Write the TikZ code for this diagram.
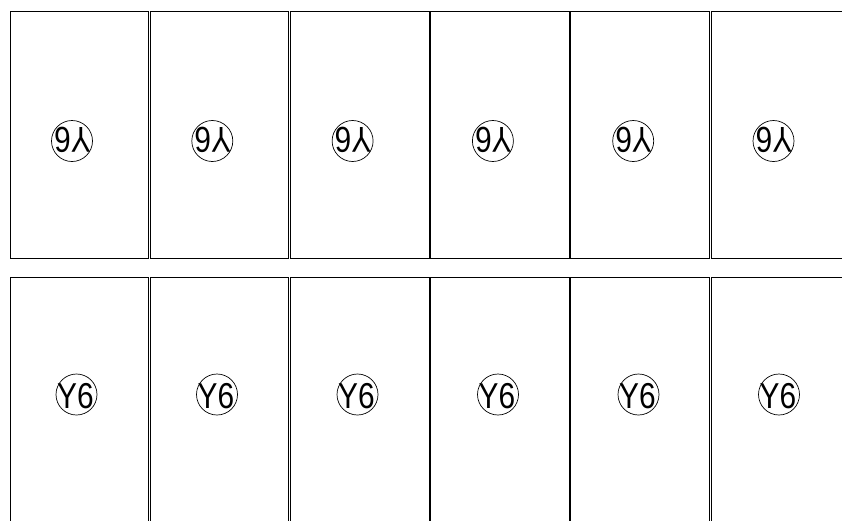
\documentclass[tikz,border=0pt]{standalone}
\usepackage{fontspec}
\setmainfont{Liberation Sans}
\usetikzlibrary{calc}
\begin{document}
\begin{tikzpicture}[x=1pt,y=-1pt,
  cell/.style={draw=black, line width=0.8pt, minimum width=138.5pt, minimum height=246.6pt, inner sep=0pt, outer sep=0pt, anchor=north west},
  badge/.style={draw=black, circle, line width=0.7pt, minimum size=41pt, inner sep=0pt},
  lbl/.style={font=\fontsize{36}{36}\selectfont, xscale=0.83, inner sep=0pt}]
\useasboundingbox (0,0) rectangle (842,520);
\clip (0,0) rectangle (842,520);
\foreach \i in {0,...,5} {
  \node[cell] (t\i) at ({10+140.2*\i},11.7) {};
  \node[badge] (tc\i) at ({72+140.3*\i},141) {};
  \node[lbl, rotate=180] (tl\i) at ($(tc\i)+(0.5,-1.5)$) {Y6};
  \node[cell] (b\i) at ({10+140.2*\i},277.7) {};
  \node[badge] (bc\i) at ({76.5+140.5*\i},394.5) {};
  \node[lbl] (bl\i) at ($(bc\i)+(-1,2)$) {Y6};
}
\end{tikzpicture}
\end{document}
